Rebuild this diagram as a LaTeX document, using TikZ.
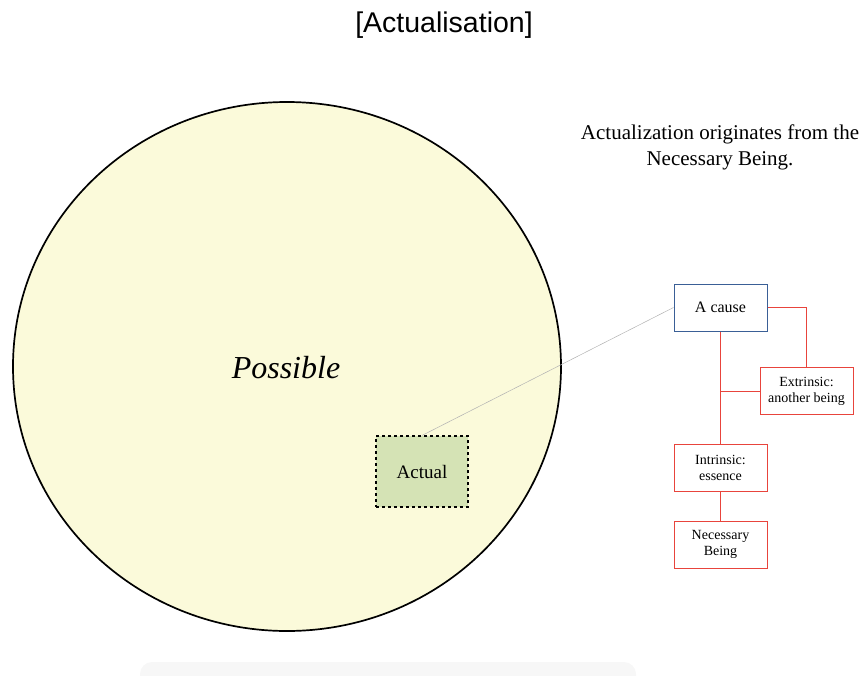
\documentclass[tikz,border=0pt]{standalone}
\usepackage{fontspec}
\setmainfont{Liberation Serif}
\newfontfamily\titlefont{Liberation Sans}
\definecolor{possfill}{HTML}{FBFADA}
\definecolor{actfill}{HTML}{D5E3B5}
\definecolor{causeblue}{HTML}{3A5F96}
\definecolor{linkred}{HTML}{E8443C}
\definecolor{shadowgray}{HTML}{F7F7F7}
\tikzset{
  redbox/.style={draw=linkred, line width=1pt, fill=white, minimum width=93pt, minimum height=47pt, align=center, inner sep=2pt, font=\fontsize{14}{16}\selectfont},
  bluebox/.style={redbox, draw=causeblue, font=\fontsize{16}{18}\selectfont},
  redlink/.style={draw=linkred, line width=1pt},
}
\begin{document}
\begin{tikzpicture}[x=1pt,y=-1pt]
\useasboundingbox (0,0) rectangle (862,675);
% faint floor shadow along the bottom edge
\fill[shadowgray, rounded corners=12pt] (140,662) rectangle (636,690);
% title
\node[font=\titlefont\fontsize{28.5}{32}\selectfont] (title) at (444,25) {[Actualisation]};
% the realm of the possible
\draw[fill=possfill, line width=1.7pt] (287,366.5) ellipse[x radius=274, y radius=264.5];
\node[font=\itshape\fontsize{32}{36}\selectfont] (possible) at (286,368) {Possible};
% what is actual
\node[draw, dashed, line width=1.1pt, fill=actfill, minimum width=92pt, minimum height=71pt, font=\fontsize{19}{22}\selectfont] (actual) at (422,471.5) {Actual};
% explanatory note
\node[align=center, font=\fontsize{21}{26}\selectfont] (note) at (720,147) {Actualization originates from the\\Necessary Being.};
% chain of causes
\node[bluebox] (cause) at (720.5,307.5) {A cause};
\node[redbox] (extr) at (806.5,391) {Extrinsic:\\another being};
\node[redbox] (intr) at (720.5,468) {Intrinsic:\\essence};
\node[redbox] (nec) at (720.5,544.5) {Necessary\\Being};
% gray link from the actual to its cause
\draw[gray!60, line width=0.5pt] (actual.north) -- (cause.west);
% red connectors
\draw[redlink] (cause.east) -| (extr.north);
\draw[redlink] (cause.south) -- (intr.north);
\draw[redlink] (extr.west) -- (extr.west -| cause.south);
\draw[redlink] (intr.south) -- (nec.north);
\end{tikzpicture}
\end{document}
